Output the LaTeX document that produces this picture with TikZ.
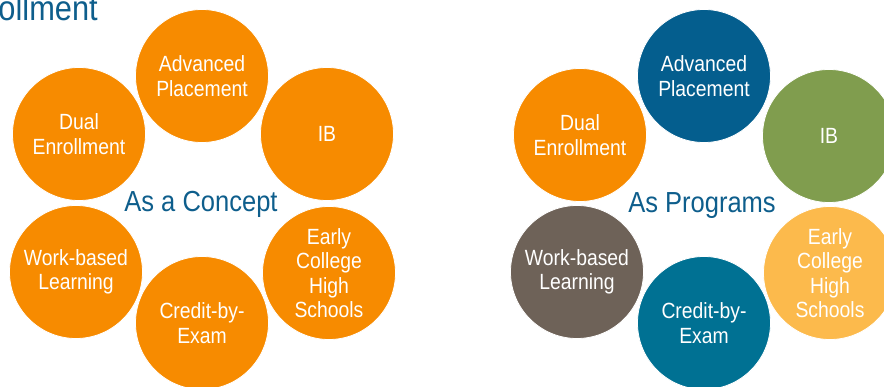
\documentclass[tikz,border=0pt]{standalone}
\usepackage{fontspec}
\setmainfont[FakeStretch=0.88]{Liberation Sans}
\definecolor{cOrange}{RGB}{247,139,0}
\definecolor{cNavy}{RGB}{4,94,142}
\definecolor{cTeal}{RGB}{0,113,147}
\definecolor{cOlive}{RGB}{128,157,78}
\definecolor{cTaupe}{RGB}{110,98,88}
\definecolor{cGold}{RGB}{252,186,76}
\definecolor{cHead}{RGB}{14,94,140}
\begin{document}
\begin{tikzpicture}[x=1pt,y=-1pt,
  bubble/.style={circle, minimum size=133pt, inner sep=0pt, draw=white, line width=0.8pt,
    text=white, align=center, font=\fontsize{22}{24.5}\selectfont},
  heading/.style={text=cHead, anchor=base, inner sep=0pt, font=\fontsize{29}{32}\selectfont}]
\useasboundingbox (0,0) rectangle (884,387);
\clip (0,0) rectangle (884,387);

% page heading, running off the left edge
\node[text=cHead, anchor=base east, inner sep=0pt, font=\fontsize{35}{40}\selectfont] (title) at (98,20.5) {Dual Enrollment};

% left cluster: every pathway in one colour
\node[bubble, fill=cOrange] (apL)   at (202,76)  {Advanced\\Placement};
\node[bubble, fill=cOrange] (deL)   at (79,134)  {Dual\\Enrollment};
\node[bubble, fill=cOrange] (ibL)   at (327,134) {IB};
\node[bubble, fill=cOrange] (wbL)   at (76,272)  {Work-based\\Learning};
\node[bubble, fill=cOrange] (cbeL)  at (202,323) {Credit-by-\\Exam};
\node[bubble, fill=cOrange] (echL)  at (329,273) {Early\\College\\High\\Schools};
\node[heading] (concept) at (201,212) {As a Concept};

% right cluster: each program in its own colour
\node[bubble, fill=cNavy]   (apR)   at (704,76)  {Advanced\\Placement};
\node[bubble, fill=cOrange] (deR)   at (580,135) {Dual\\Enrollment};
\node[bubble, fill=cOlive]  (ibR)   at (829,136) {IB};
\node[bubble, fill=cTaupe]  (wbR)   at (577,272) {Work-based\\Learning};
\node[bubble, fill=cTeal]   (cbeR)  at (704,323) {Credit-by-\\Exam};
\node[bubble, fill=cGold]   (echR)  at (830,273) {Early\\College\\High\\Schools};
\node[heading] (programs) at (702,212.5) {As Programs};
\end{tikzpicture}
\end{document}
